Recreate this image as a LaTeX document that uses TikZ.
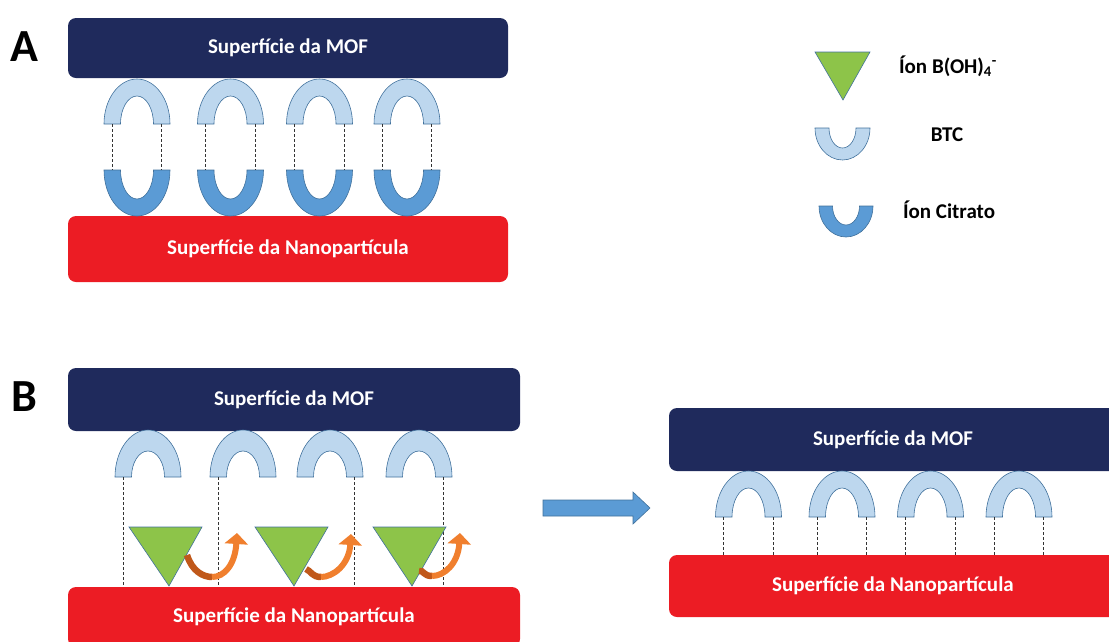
\documentclass[tikz,border=0pt]{standalone}
\usepackage{fontspec}
\setmainfont{Carlito}
\usetikzlibrary{arrows.meta}

\definecolor{mofblue}{HTML}{1F2A5C}
\definecolor{nanored}{HTML}{EC1C24}
\definecolor{btcblue}{HTML}{BDD7EE}
\definecolor{citblue}{HTML}{5B9BD5}
\definecolor{edgeblue}{HTML}{41719C}
\definecolor{borgreen}{HTML}{8DC449}
\definecolor{arrorange}{HTML}{F07F2E}
\definecolor{arrdark}{HTML}{C0581A}

% half rings: style, centre x, base y, outer rx, outer ry, inner rx, inner ry
\newcommand{\capdown}[7]{\filldraw[#1] (#2-#4,#3) arc[start angle=180,end angle=360,x radius=#4,y radius=#5]
  -- (#2+#6,#3) arc[start angle=0,end angle=-180,x radius=#6,y radius=#7] -- cycle;}
\newcommand{\cupup}[7]{\filldraw[#1] (#2-#4,#3) arc[start angle=180,end angle=0,x radius=#4,y radius=#5]
  -- (#2+#6,#3) arc[start angle=0,end angle=180,x radius=#6,y radius=#7] -- cycle;}

\begin{document}
\begin{tikzpicture}[x=1pt, y=-1pt,
    surface/.style={rectangle, rounded corners=8pt, inner sep=0pt, text=white, font=\fontsize{21}{24}\selectfont\bfseries},
    mof/.style={surface, fill=mofblue},
    nano/.style={surface, fill=nanored},
    btc/.style={fill=btcblue, draw=edgeblue, line width=0.6pt},
    citrate/.style={fill=citblue, draw=edgeblue, line width=0.6pt},
    boron/.style={fill=borgreen, draw=edgeblue, line width=0.6pt},
    bond/.style={draw=black!80, line width=0.9pt, dash pattern=on 3pt off 2pt},
    leavedark/.style={draw=arrdark, line width=6.5pt},
    leave/.style={draw=arrorange, line width=6pt, -{Triangle[width=23pt,length=11pt]}},
    panel/.style={font=\fontsize{46}{50}\selectfont\bfseries},
    legend/.style={font=\fontsize{21}{24}\selectfont\bfseries}]
	\useasboundingbox (0,0) rectangle (1109,641);

	% A
	\node[panel] (la) at (24,47) {A};
	\node[mof, minimum width=440pt, minimum height=60pt] (mofA) at (288,48) {Superfície da MOF};
	\node[nano, minimum width=440pt, minimum height=66pt] (nanoA) at (288,249) {Superfície da Nanopartícula};
	\foreach \x [count=\i] in {137,230.5,319.5,407}{
		\capdown{btc}{\x}{124}{33}{45}{16.5}{28}
		\cupup{citrate}{\x}{170}{33}{46}{16.5}{29}
		\coordinate (al\i) at (\x-24.75,124);
		\coordinate (ar\i) at (\x+24.75,124);
		\coordinate (cl\i) at (\x-24.75,170);
		\coordinate (cr\i) at (\x+24.75,170);
		\draw[bond] (al\i) -- (cl\i);
		\draw[bond] (ar\i) -- (cr\i);
	}

	% legend
	\filldraw[boron] (815,52) -- (870,52) -- (843,100) -- cycle;
	\cupup{btc}{842.5}{128}{27.5}{32}{13.5}{20}
	\cupup{citrate}{846}{206}{27}{31}{13.5}{19}
	\node[legend] (lgbor) at (948,66) {Íon B(OH)\textsubscript{4}\textsuperscript{-}};
	\node[legend] (lgbtc) at (947,135) {BTC};
	\node[legend] (lgcit) at (949,210) {Íon Citrato};

	% B, before
	\node[panel] (lb) at (24,397) {B};
	\node[mof, minimum width=452pt, minimum height=63pt] (mofB) at (294,399.5) {Superfície da MOF};
	\node[nano, minimum width=452pt, minimum height=60pt] (nanoB) at (294,617) {Superfície da Nanopartícula};
	\foreach \x in {148,243,330,419}{
		\capdown{btc}{\x}{477}{33}{47}{16.5}{26}
	}
	\foreach \x [count=\i] in {123.25,218.25,354.75,443.75}{
		\coordinate (bl\i) at (\x,477);
		\draw[bond] (bl\i) -- (bl\i |- nanoB.north);
	}
	\foreach \l/\b in {129/169, 255/294, 373/412}{
		\filldraw[boron] (\l,527) -- (\l+73,527) -- (\b,586) -- cycle;
	}
	\foreach \sx/\sy/\mx/\my/\tx/\ty in {187/555/212/577/237/533, 306/569/321/577/351/534, 419/571/432/576/460/533}{
		\draw[leavedark] (\sx,\sy) .. controls (\sx+5,\my-6) and (\mx-9,\my) .. (\mx,\my);
		\draw[leave] (\mx,\my) .. controls (\mx+12,\my) and (\tx-2,\my-12) .. (\tx,\ty);
	}

	% arrow
	\filldraw[citrate] (543,500) -- (633,500) -- (633,492) -- (650,508) -- (633,524) -- (633,516) -- (543,516) -- cycle;

	% B, after
	\node[mof, minimum width=448pt, minimum height=63pt] (mofR) at (893,439.5) {Superfície da MOF};
	\node[nano, minimum width=448pt, minimum height=62pt] (nanoR) at (893,586) {Superfície da Nanopartícula};
	\foreach \x [count=\i] in {748.5,842,930.5,1019}{
		\capdown{btc}{\x}{517}{33}{46}{16.5}{29}
		\coordinate (rl\i) at (\x-24.75,517);
		\coordinate (rr\i) at (\x+24.75,517);
		\draw[bond] (rl\i) -- (rl\i |- nanoR.north);
		\draw[bond] (rr\i) -- (rr\i |- nanoR.north);
	}
\end{tikzpicture}
\end{document}
